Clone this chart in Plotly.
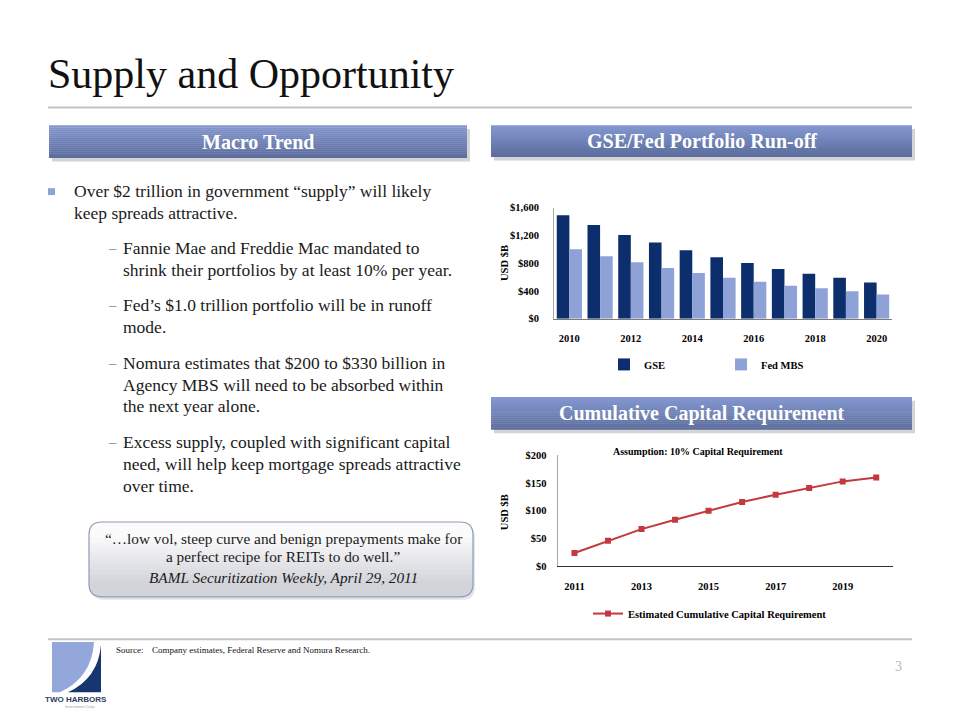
import plotly.graph_objects as go

# ---------------- data ----------------
bar_years = ['2010', '2011', '2012', '2013', '2014', '2015', '2016', '2017', '2018', '2019', '2020']
gse = [1490, 1350, 1205, 1098, 985, 885, 800, 715, 645, 588, 521]
fed_mbs = [1000, 898, 813, 728, 658, 588, 530, 473, 436, 393, 346]
bar_xticks = ['2010', '2012', '2014', '2016', '2018', '2020']
bar_yticks = [0, 400, 800, 1200, 1600]
bar_yticklabels = ['$0', '$400', '$800', '$1,200', '$1,600']

line_years = ['2011', '2012', '2013', '2014', '2015', '2016', '2017', '2018', '2019', '2020']
capital_req = [24, 46, 67, 84, 100, 116, 129, 141, 153, 160]
line_xticks = ['2011', '2013', '2015', '2017', '2019']
line_yticks = [0, 50, 100, 150, 200]
line_yticklabels = ['$0', '$50', '$100', '$150', '$200']

# ---------------- helpers ----------------
W, H = 960, 720


def X(px):
    return px / W


def Y(py):
    return 1 - py / H


SERIF = 'Liberation Serif'
GSE_C = '#0D2E6C'
FED_C = '#8FA2D8'
LINE_C = '#C4393E'

shapes = []
annotations = []


def rect(x0, y0, x1, y1, color, line_color=None, lw=0):
    shapes.append(dict(type='rect', xref='paper', yref='paper',
                       x0=X(x0), x1=X(x1), y0=Y(y1), y1=Y(y0),
                       fillcolor=color, line=dict(width=lw, color=line_color or color)))


def lerp_color(c0, c1, t):
    a = [int(c0[i:i + 2], 16) for i in (1, 3, 5)]
    b = [int(c1[i:i + 2], 16) for i in (1, 3, 5)]
    return '#%02x%02x%02x' % tuple(round(a[k] + (b[k] - a[k]) * t) for k in range(3))


def text(x, y, s, size=16, color='#1a1a1a', xanchor='left', yanchor='middle',
         family=SERIF, weight='normal', style='normal', angle=0):
    annotations.append(dict(xref='paper', yref='paper', x=X(x), y=Y(y), text=s,
                            showarrow=False, xanchor=xanchor, yanchor=yanchor,
                            textangle=angle,
                            font=dict(family=family, size=size, color=color,
                                      weight=weight, style=style)))


def header_box(x0, y0, x1, y1, label):
    rect(x0 + 3, y0 + 4, x1 + 3, y1 + 4, '#D4D4D6')
    n = 16
    for i in range(n):
        t = i / (n - 1)
        c = lerp_color('#8398D0', '#5C6D9E', t)
        ya = y0 + (y1 - y0) * i / n
        yb = y0 + (y1 - y0) * (i + 1) / n + 0.3
        rect(x0, ya, x1, yb, c)
    text((x0 + x1) / 2, (y0 + y1) / 2 + 0.5, label, size=20, color='white',
         xanchor='center', weight='bold')


def rpath(x0, y0, x1, y1, r, tl=True, tr=True, br=True, bl=True):
    def p(x, y):
        return '%.5f,%.5f' % (X(x), Y(y))
    d = 'M ' + p(x0 + (r if tl else 0), y0)
    d += ' L ' + p(x1 - (r if tr else 0), y0)
    if tr:
        d += ' Q ' + p(x1, y0) + ' ' + p(x1, y0 + r)
    d += ' L ' + p(x1, y1 - (r if br else 0))
    if br:
        d += ' Q ' + p(x1, y1) + ' ' + p(x1 - r, y1)
    d += ' L ' + p(x0 + (r if bl else 0), y1)
    if bl:
        d += ' Q ' + p(x0, y1) + ' ' + p(x0, y1 - r)
    d += ' L ' + p(x0, y0 + (r if tl else 0))
    if tl:
        d += ' Q ' + p(x0, y0) + ' ' + p(x0 + r, y0)
    return d + ' Z'


# ---------------- page decoration ----------------
text(46, 70, 'Supply and Opportunity', size=42, color='#111111')
rect(48, 103, 912, 105, '#C3C3C3')

header_box(49, 122, 467, 155, 'Macro Trend')
header_box(491, 122, 912, 154, 'GSE/Fed Portfolio Run-off')
header_box(491, 398, 912, 431, 'Cumulative Capital Requirement')

# bullets
rect(48, 186, 55, 193, FED_C)
body = [
    (72, 189, 'Over $2 trillion in government \u201csupply\u201d will likely'),
    (72, 211, 'keep spreads attractive.'),
    (121, 247, 'Fannie Mae and Freddie Mac mandated to'),
    (121, 269, 'shrink their portfolios by at least 10% per year.'),
    (121, 305, 'Fed\u2019s $1.0 trillion portfolio will be in runoff'),
    (121, 327, 'mode.'),
    (121, 364, 'Nomura estimates that $200 to $330 billion in'),
    (121, 386, 'Agency MBS will need to be absorbed within'),
    (121, 407, 'the next year alone.'),
    (121, 444, 'Excess supply, coupled with significant capital'),
    (121, 466, 'need, will help keep mortgage spreads attractive'),
    (121, 488, 'over time.'),
]
for bx, by, s in body:
    text(bx, by, s, size=17.5)
for dy in (247, 305, 364, 444):
    text(106, dy, '\u2013', size=15, color='#8A8A8A')

# quote box
qx0, qx1, qy0, qy1, qr = 89, 473, 525, 601, 13
shapes.append(dict(type='path', xref='paper', yref='paper',
                   path=rpath(qx0 + 2, qy0 + 3, qx1 + 2, qy1 + 3, qr),
                   fillcolor='#E4E5EA', line=dict(width=0)))
ns = 14
for i in range(ns):
    t = i / (ns - 1)
    c = lerp_color('#FBFBFC', '#D3D4DA', t)
    ya = qy0 + qr + (qy1 - qy0 - 2 * qr) * i / ns
    yb = qy0 + qr + (qy1 - qy0 - 2 * qr) * (i + 1) / ns + 0.3
    rect(qx0, ya, qx1, yb, c)
shapes.append(dict(type='path', xref='paper', yref='paper',
                   path=rpath(qx0, qy0, qx1, qy0 + qr + 0.3, qr, br=False, bl=False),
                   fillcolor='#FBFBFC', line=dict(width=0)))
shapes.append(dict(type='path', xref='paper', yref='paper',
                   path=rpath(qx0, qy1 - qr, qx1, qy1, qr, tl=False, tr=False),
                   fillcolor='#D3D4DA', line=dict(width=0)))
shapes.append(dict(type='path', xref='paper', yref='paper',
                   path=rpath(qx0, qy0, qx1, qy1, qr),
                   fillcolor='rgba(0,0,0,0)', line=dict(width=1.2, color='#8E9CBA')))
text(283, 542, '\u201c\u2026low vol, steep curve and benign prepayments make for', size=15.3,
     xanchor='center')
text(283, 560, 'a perfect recipe for REITs to do well.\u201d', size=15.3, xanchor='center')
text(283, 581, 'BAML Securitization Weekly, April 29, 2011', size=15.3, xanchor='center',
     style='italic')

# footer
rect(48, 643, 912, 645, '#C3C3C3')
text(114, 655, 'Source:', size=9, color='#111111')
text(150, 655, 'Company estimates, Federal Reserve and Nomura Research.', size=9,
     color='#111111')
text(898, 672, '3', size=14, color='#B8B8B8', xanchor='center')

# logo
shapes.append(dict(type='path', xref='paper', yref='paper',
                   path='M %f,%f L %f,%f Q %f,%f %f,%f L %f,%f Z' % (
                       X(52), Y(647), X(94), Y(647), X(92), Y(683), X(60), Y(698), X(52), Y(698)),
                   fillcolor='#94A7DA', line=dict(width=0)))
shapes.append(dict(type='path', xref='paper', yref='paper',
                   path='M %f,%f Q %f,%f %f,%f L %f,%f Z' % (
                       X(101), Y(650), X(98), Y(684), X(68), Y(698), X(101), Y(698)),
                   fillcolor='#17356F', line=dict(width=0)))
text(76, 705, 'TWO HARBORS', size=8, color='#2E3C60', xanchor='center',
     family='Liberation Sans', weight='bold')
text(80, 712, 'Investment Corp.', size=4, color='#A0A0A0', xanchor='center',
     family='Liberation Sans')

# chart texts
text(505, 262, 'USD $B', size=10.5, color='black', xanchor='center', weight='bold', angle=-90)
text(504, 515, 'USD $B', size=10.5, color='black', xanchor='center', weight='bold', angle=-90)
text(698, 453, 'Assumption: 10% Capital Requirement', size=10, color='black',
     xanchor='center', weight='bold')

# ---------------- figure ----------------
tickfont = dict(family=SERIF, size=10.5, color='black', weight='bold')

fig = go.Figure()
fig.add_trace(go.Bar(x=bar_years, y=gse, name='GSE', marker=dict(color=GSE_C, line=dict(width=0)),
                     xaxis='x', yaxis='y', legend='legend'))
fig.add_trace(go.Bar(x=bar_years, y=fed_mbs, name='Fed MBS',
                     marker=dict(color=FED_C, line=dict(width=0)),
                     xaxis='x', yaxis='y', legend='legend'))
fig.add_trace(go.Scatter(x=line_years, y=capital_req, name='Estimated Cumulative Capital Requirement',
                         mode='lines+markers', line=dict(color=LINE_C, width=2),
                         marker=dict(symbol='square', size=6, color=LINE_C),
                         xaxis='x2', yaxis='y2', legend='legend2'))

fig.update_layout(
    width=W, height=H, autosize=False,
    margin=dict(l=0, r=0, t=0, b=0),
    paper_bgcolor='white', plot_bgcolor='rgba(0,0,0,0)',
    barmode='group', bargap=0.18, bargroupgap=0,
    showlegend=True,
    xaxis=dict(domain=[X(554), X(892)], anchor='y', type='category',
               tickvals=bar_xticks, ticktext=bar_xticks, tickfont=tickfont,
               showline=True, linecolor='#7A7A7A', linewidth=1, showgrid=False,
               ticks='', ticklabelstandoff=10, range=[-0.5, 10.5]),
    yaxis=dict(domain=[Y(318.5), Y(205.7)], anchor='x', range=[0, 1600],
               tickvals=bar_yticks, ticktext=bar_yticklabels, tickfont=tickfont,
               showline=True, linecolor='#A8A8A8', linewidth=1, showgrid=False,
               zeroline=False, ticks='', ticklabelstandoff=12),
    xaxis2=dict(domain=[X(557.7), X(893)], anchor='y2', type='category',
                tickvals=line_xticks, ticktext=line_xticks, tickfont=tickfont,
                showline=True, linecolor='#333333', linewidth=1, showgrid=False,
                ticks='', ticklabelstandoff=10, range=[-0.5, 9.5]),
    yaxis2=dict(domain=[Y(570), Y(457.3)], anchor='x2', range=[0, 200],
                tickvals=line_yticks, ticktext=line_yticklabels, tickfont=tickfont,
                showline=True, linecolor='#A8A8A8', linewidth=1, showgrid=False,
                zeroline=False, ticks='', ticklabelstandoff=8),
    legend=dict(orientation='h', x=X(604), y=Y(365), xanchor='left', yanchor='middle',
                entrywidth=72, entrywidthmode='pixels', itemwidth=30,
                bgcolor='rgba(0,0,0,0)',
                font=dict(family=SERIF, size=10.5, color='black', weight='bold')),
    legend2=dict(orientation='h', x=X(588), y=Y(618), xanchor='left', yanchor='middle',
                 itemwidth=30, bgcolor='rgba(0,0,0,0)',
                 font=dict(family=SERIF, size=10.5, color='black', weight='bold')),
    shapes=shapes,
    annotations=annotations,
)

fig.write_html("out.html", config={'displayModeBar': False},
               post_script="document.body.style.margin='0';document.body.style.overflow='hidden';")
